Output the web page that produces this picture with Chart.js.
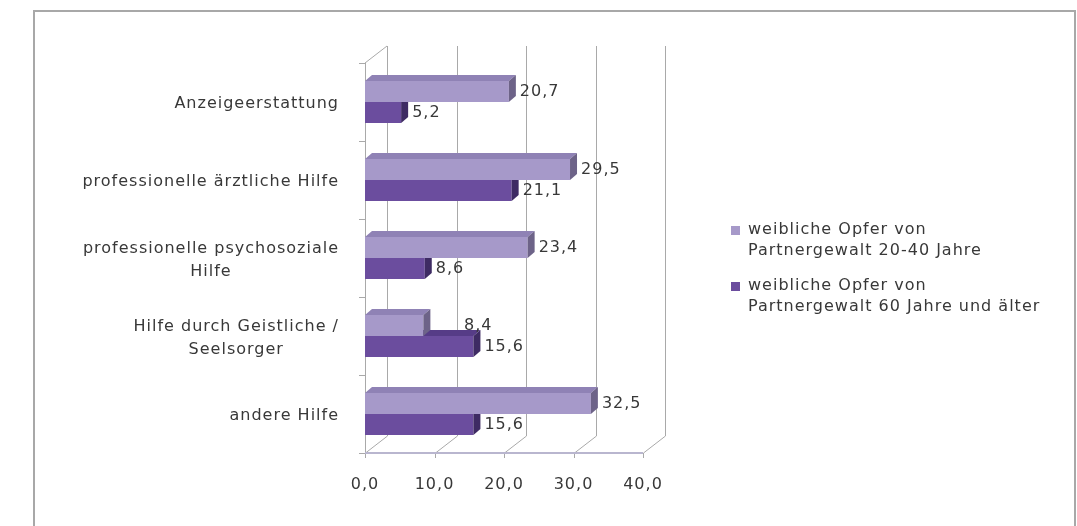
<!DOCTYPE html>
<html lang="de">
<head>
  <meta charset="UTF-8">
  <title>Inanspruchnahme von Hilfe</title>
  <script src="https://cdn.jsdelivr.net/npm/chart.js@4.4.0/dist/chart.umd.min.js"></script>
  <style>
    body { margin: 0; background: #fff; }
    #frame { position: absolute; left: 33px; top: 10px; width: 1039px; height: 530px;
             border: 2px solid #a8a8a8; border-bottom: none; }
    #mychart { position: absolute; left: 0; top: 0; }
  </style>
</head>
<body>
  <div id="frame"></div>
  <canvas id="mychart" width="1077" height="526"></canvas>

  <script>
    // data
    const categories = [
      ['Anzeigeerstattung'],
      ['professionelle ärztliche Hilfe'],
      ['professionelle psychosoziale', 'Hilfe'],
      ['Hilfe durch Geistliche /', 'Seelsorger'],
      ['andere Hilfe']
    ];
    const seriesNames = [
      ['weibliche Opfer von', 'Partnergewalt 20-40 Jahre'],
      ['weibliche Opfer von', 'Partnergewalt 60 Jahre und älter']
    ];
    const young = [20.7, 29.5, 23.4, 8.4, 32.5];
    const old = [5.2, 21.1, 8.6, 15.6, 15.6];
    const xTicks = [0, 10, 20, 30, 40];

    const FONT = "'DejaVu Sans', 'Open Sans', sans-serif";
    const TEXT = '#383838';
    const SPACING = '1px';
    const DX = 22, DY = 17;   // depth of the 3d walls
    const BDX = 7, BDY = 6;   // depth of the bars

    function fmt(v) { return v.toFixed(1).replace('.', ','); }

    function poly(ctx, pts) {
      ctx.beginPath();
      ctx.moveTo(pts[0][0], pts[0][1]);
      for (let i = 1; i < pts.length; i++) ctx.lineTo(pts[i][0], pts[i][1]);
      ctx.closePath();
      ctx.fill();
    }
    function line(ctx, x1, y1, x2, y2) {
      ctx.beginPath(); ctx.moveTo(x1, y1); ctx.lineTo(x2, y2); ctx.stroke();
    }

    const threeD = {
      id: 'threeD',
      beforeDraw(chart) {
        // the original text is set wide, keep that for every label
        chart.ctx.letterSpacing = SPACING;
      },
      beforeDatasetsDraw(chart) {
        const { ctx, chartArea: a, scales: { x, y } } = chart;
        ctx.save();
        ctx.strokeStyle = '#a9a9a9';
        ctx.lineWidth = 1;
        xTicks.forEach(v => {
          const px = Math.round(x.getPixelForValue(v)) + 0.5;
          line(ctx, px + DX, a.top - DY, px + DX, a.bottom - DY);
          line(ctx, px, a.bottom, px + DX, a.bottom - DY);
          line(ctx, px, a.bottom, px, a.bottom + 5);
        });
        line(ctx, a.left + 0.5, a.top, a.left + 0.5, a.bottom);
        line(ctx, a.left, a.top, a.left + DX, a.top - DY);
        for (let i = 0; i <= categories.length; i++) {
          const py = Math.round(y.getPixelForValue(i - 0.5)) + 0.5;
          line(ctx, a.left - 6, py, a.left, py);
        }
        ctx.strokeStyle = '#b9b6cf';
        ctx.lineWidth = 2;
        line(ctx, a.left, a.bottom, x.getPixelForValue(40), a.bottom);
        ctx.restore();
      },
      afterDatasetDraw(chart, args) {
        const { ctx } = chart;
        const ds = chart.data.datasets[args.index];
        ctx.save();
        args.meta.data.forEach(bar => {
          const { x, y, base, height } = bar.getProps(['x', 'y', 'base', 'height'], true);
          const t = y - height / 2, b = y + height / 2;
          ctx.fillStyle = ds.topColor;
          poly(ctx, [[base, t], [base + BDX, t - BDY], [x + BDX, t - BDY], [x, t]]);
          ctx.fillStyle = ds.sideColor;
          poly(ctx, [[x, t], [x + BDX, t - BDY], [x + BDX, b - BDY], [x, b]]);
        });
        ctx.restore();
      },
      afterDraw(chart) {
        const { ctx, chartArea: a, scales: { y } } = chart;
        ctx.save();
        ctx.letterSpacing = SPACING;
        ctx.fillStyle = TEXT;
        ctx.textBaseline = 'middle';

        // value labels; an upper label whose lower neighbour is longer
        // gets pushed out to that bar's end, like in the original
        ctx.font = '16px ' + FONT;
        const lower = chart.getDatasetMeta(1).data;
        chart.data.datasets.forEach((ds, i) => {
          chart.getDatasetMeta(i).data.forEach((bar, j) => {
            const txt = fmt(ds.data[j]);
            if (i === 0 && lower[j].x > bar.x) {
              ctx.textAlign = 'right';
              ctx.fillText(txt, lower[j].x + BDX + 12, bar.y);
            } else {
              ctx.textAlign = 'left';
              ctx.fillText(txt, bar.x + BDX + 4, bar.y);
            }
          });
        });

        // category labels, centred lines in a right aligned block
        ctx.textAlign = 'center';
        const right = a.left - 26;
        categories.forEach((lines, i) => {
          const w = Math.max(...lines.map(s => ctx.measureText(s).width));
          const cy = y.getPixelForValue(i) + 2;
          lines.forEach((s, k) => {
            ctx.fillText(s, right - w / 2, cy + (k - (lines.length - 1) / 2) * 23);
          });
        });

        // legend
        ctx.textAlign = 'left';
        const mid = (a.top + a.bottom) / 2;
        const lx = a.right + 88;
        chart.data.datasets.forEach((ds, i) => {
          const ly = mid - 28 + i * 56;
          ctx.fillStyle = ds.backgroundColor;
          ctx.fillRect(lx, ly - 4, 9, 9);
          ctx.fillStyle = TEXT;
          seriesNames[i].forEach((s, k) => ctx.fillText(s, lx + 17, ly + k * 21));
        });
        ctx.restore();
      }
    };

    const data = {
      labels: categories.map(c => c.join(' ')),
      datasets: [{
        label: seriesNames[0].join(' '),
        data: young,
        backgroundColor: '#a699c9',
        topColor: '#8f82b5',
        sideColor: '#6d6388',
        categoryPercentage: 0.54,
        barPercentage: 1
      }, {
        label: seriesNames[1].join(' '),
        data: old,
        backgroundColor: '#6b4d9e',
        topColor: '#563c87',
        sideColor: '#3e2b63',
        categoryPercentage: 0.54,
        barPercentage: 1
      }]
    };

    const config = {
      type: 'bar',
      data: data,
      options: {
        indexAxis: 'y',
        responsive: false,
        animation: false,
        layout: { padding: { top: 63, right: 434, bottom: 0, left: 0 } },
        plugins: {
          legend: { display: false },
          tooltip: { enabled: false }
        },
        scales: {
          x: {
            min: 0,
            max: 40,
            afterBuildTicks: s => { s.ticks = xTicks.map(v => ({ value: v })); },
            afterFit: s => { s.height = 73; },
            grid: { display: false, drawTicks: false },
            border: { display: false },
            ticks: {
              padding: 22,
              color: TEXT,
              font: { family: FONT, size: 16 },
              callback: v => fmt(v)
            }
          },
          y: {
            afterFit: s => { s.width = 365; },
            grid: { display: false, drawTicks: false },
            border: { display: false },
            ticks: { display: false }
          }
        }
      },
      plugins: [threeD]
    };

    new Chart(document.getElementById('mychart'), config);
  </script>
</body>
</html>
